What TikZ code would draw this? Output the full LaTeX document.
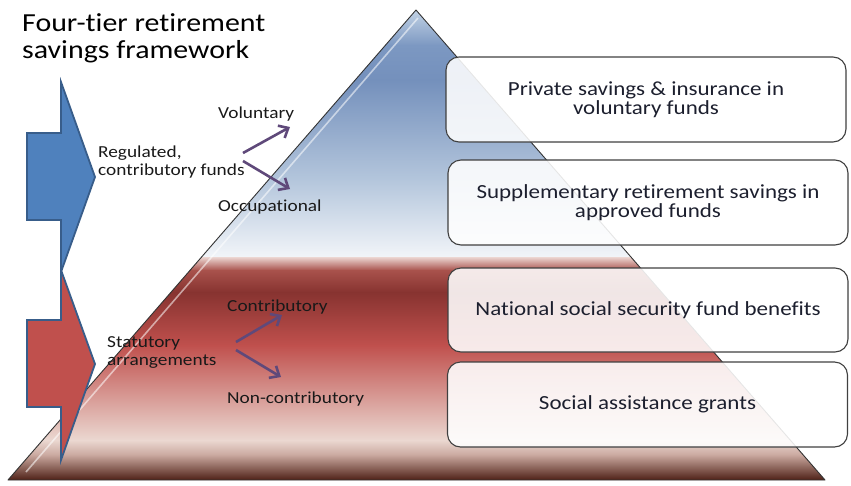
\documentclass[tikz,border=0pt]{standalone}
\usepackage{fontspec}
\setmainfont{Carlito}[FakeStretch=1.15,Ligatures=NoCommon]
\usetikzlibrary{arrows.meta}

\definecolor{tierblue}{HTML}{4F81BD}
\definecolor{tierblueline}{HTML}{385D8A}
\definecolor{tierred}{HTML}{C0504D}
\definecolor{branchpurple}{HTML}{5F497A}
\definecolor{boxtext}{HTML}{1C1F2E}

\begin{document}
\begin{tikzpicture}[x=1pt,y=1pt]
\tikzstyle{every node}+=[inner sep=0pt]
\tikzstyle{tierbox}=[draw=black!75, line width=1.1pt, rounded corners=13pt, fill=white, fill opacity=0.88, text opacity=1, minimum width=400pt, minimum height=85pt, align=center, text=boxtext, font=\fontsize{20}{19}\selectfont]
\tikzstyle{sidetext}=[text=black!90, font=\fontsize{16.8}{17.5}\selectfont]
\tikzstyle{brancharrow}=[draw=branchpurple, line width=2.6pt, -{Straight Barb[length=8pt,width=14pt]}]
\useasboundingbox (0,0) rectangle (851,-485);
\begin{scope}
\clip (416,-10) -- (825,-480) -- (8,-480) -- cycle;
\shade [top color={rgb,255:red,196;green,212;blue,230}, bottom color={rgb,255:red,124;green,152;blue,194}] (0,-9) rectangle (851,-45.5);
\shade [top color={rgb,255:red,124;green,152;blue,194}, bottom color={rgb,255:red,116;green,144;blue,188}] (0,-45) rectangle (851,-80.5);
\shade [top color={rgb,255:red,116;green,144;blue,188}, bottom color={rgb,255:red,180;green,198;blue,220}] (0,-80) rectangle (851,-180.5);
\shade [top color={rgb,255:red,180;green,198;blue,220}, bottom color={rgb,255:red,242;green,245;blue,249}] (0,-180) rectangle (851,-257.5);
\shade [top color={rgb,255:red,236;green,214;blue,210}, bottom color={rgb,255:red,169;green,82;blue,76}] (0,-257) rectangle (851,-270.5);
\shade [top color={rgb,255:red,169;green,82;blue,76}, bottom color={rgb,255:red,135;green,51;blue,48}] (0,-270) rectangle (851,-292.5);
\shade [top color={rgb,255:red,135;green,51;blue,48}, bottom color=tierred] (0,-292) rectangle (851,-345.5);
\shade [top color=tierred, bottom color={rgb,255:red,235;green,216;blue,209}] (0,-345) rectangle (851,-440.5);
\shade [top color={rgb,255:red,235;green,216;blue,209}, bottom color={rgb,255:red,201;green,167;blue,158}] (0,-440) rectangle (851,-455.5);
\shade [top color={rgb,255:red,201;green,167;blue,158}, bottom color={rgb,255:red,74;green,28;blue,18}] (0,-455) rectangle (851,-481);
\draw [white, opacity=0.55, line width=1.6pt] (418,-18) -- (26,-472);
\end{scope}
\draw [black!80, line width=0.9pt, line join=round] (416,-10) -- (825,-480) -- (8,-480) -- cycle;
\draw [tierblueline, line width=1.8pt, fill=tierred] (27,-320) -- (61,-320) -- (61,-270) -- (95,-364) -- (61,-460) -- (61,-407) -- (27,-407) -- cycle;
\draw [tierblueline, line width=1.8pt, fill=tierblue] (27,-133) -- (61,-133) -- (61,-82) -- (95,-177) -- (61,-272) -- (61,-220) -- (27,-220) -- cycle;
\node [anchor=west, align=left, text=black, font=\fontsize{26}{27}\selectfont] (title) at (22,-38) {Four-tier retirement\\savings framework};
\node [sidetext, anchor=west, align=left] (regulated) at (98,-162) {Regulated,\\contributory funds};
\node [sidetext, anchor=base west] (voluntary) at (218,-118) {Voluntary};
\node [sidetext, anchor=base west] (occupational) at (218,-211) {Occupational};
\node [sidetext, anchor=west, align=left] (statutory) at (107,-352.5) {Statutory\\arrangements};
\node [sidetext, anchor=base west] (contributory) at (227,-311) {Contributory};
\node [sidetext, anchor=base west] (noncontributory) at (227,-403) {Non-contributory};
\coordinate (regup) at (243,-153);
\coordinate (volend) at (290,-127);
\coordinate (regdown) at (243,-161);
\coordinate (occend) at (290,-189);
\coordinate (statup) at (236,-342);
\coordinate (contend) at (282,-315);
\coordinate (statdown) at (236,-350);
\coordinate (noncend) at (281,-377);
\draw [brancharrow] (regup) -- (volend);
\draw [brancharrow] (regdown) -- (occend);
\draw [brancharrow] (statup) -- (contend);
\draw [brancharrow] (statdown) -- (noncend);
\node [tierbox] (privatebox) at (646,-99.5) {Private savings \& insurance in\\voluntary funds};
\node [tierbox] (supplementbox) at (648,-202.5) {Supplementary retirement savings in\\approved funds};
\node [tierbox, minimum height=84pt] (nationalbox) at (648,-310) {National social security fund benefits};
\node [tierbox] (assistancebox) at (647.5,-404.5) {Social assistance grants};
\end{tikzpicture}
\end{document}
